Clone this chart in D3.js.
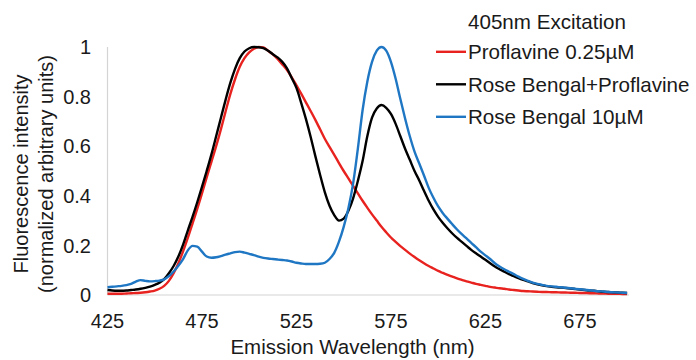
<!DOCTYPE html>
<html>
<head>
<meta charset="utf-8">
<script src="https://cdn.jsdelivr.net/npm/d3@7"></script>
<style>
  html, body { margin: 0; padding: 0; background: #fff; }
  svg { display: block; font-family: "Liberation Sans", Arial, sans-serif; }
</style>
</head>
<body>
<svg id="chart" width="696" height="360"></svg>
<script>
// Emission wavelengths (nm), sampled every 2.5 nm
const wavelengths = d3.range(0, 111).map(i => 425 + i * 2.5);

// Normalized emission spectra under 405 nm excitation
const proflavine = [
  0.005, 0.005, 0.005, 0.005, 0.006, 0.007, 0.008, 0.009, 0.011, 0.014,
  0.018, 0.025, 0.037, 0.057, 0.088, 0.128, 0.176, 0.230, 0.288, 0.347,
  0.410, 0.474, 0.537, 0.600, 0.668, 0.740, 0.810, 0.870, 0.920, 0.955,
  0.978, 0.993, 1.000, 0.998, 0.985, 0.970, 0.952, 0.930, 0.907, 0.878,
  0.845, 0.812, 0.777, 0.742, 0.706, 0.668, 0.630, 0.597, 0.565, 0.532,
  0.500, 0.470, 0.440, 0.410, 0.380, 0.352, 0.325, 0.300, 0.275, 0.253,
  0.232, 0.214, 0.197, 0.182, 0.167, 0.153, 0.140, 0.128, 0.117, 0.107,
  0.097, 0.089, 0.081, 0.074, 0.067, 0.061, 0.055, 0.050, 0.045, 0.041,
  0.037, 0.033, 0.030, 0.027, 0.025, 0.022, 0.020, 0.018, 0.016, 0.015,
  0.014, 0.013, 0.012, 0.012, 0.011, 0.011, 0.010, 0.010, 0.009, 0.009,
  0.008, 0.008, 0.007, 0.007, 0.006, 0.006, 0.005, 0.005, 0.005, 0.004,
  0.004
];

const mixture = [
  0.020, 0.018, 0.017, 0.017, 0.018, 0.020, 0.022, 0.025, 0.029, 0.034,
  0.041, 0.050, 0.064, 0.088, 0.117, 0.155, 0.203, 0.260, 0.315, 0.374,
  0.436, 0.500, 0.567, 0.640, 0.714, 0.787, 0.855, 0.912, 0.955, 0.982,
  0.995, 1.000, 0.999, 0.995, 0.985, 0.971, 0.958, 0.940, 0.914, 0.875,
  0.835, 0.775, 0.710, 0.638, 0.560, 0.485, 0.415, 0.360, 0.322, 0.300,
  0.308, 0.340, 0.390, 0.460, 0.540, 0.640, 0.715, 0.752, 0.766, 0.755,
  0.730, 0.690, 0.640, 0.590, 0.545, 0.500, 0.462, 0.420, 0.380, 0.345,
  0.315, 0.290, 0.268, 0.248, 0.230, 0.214, 0.198, 0.182, 0.168, 0.155,
  0.142, 0.128, 0.115, 0.104, 0.094, 0.084, 0.076, 0.068, 0.061, 0.055,
  0.048, 0.043, 0.039, 0.036, 0.033, 0.031, 0.030, 0.028, 0.026, 0.024,
  0.022, 0.020, 0.018, 0.017, 0.015, 0.013, 0.012, 0.011, 0.010, 0.009,
  0.008
];

const roseBengal = [
  0.031, 0.033, 0.035, 0.037, 0.040, 0.045, 0.054, 0.060, 0.057, 0.055,
  0.056, 0.058, 0.063, 0.076, 0.095, 0.118, 0.145, 0.180, 0.198, 0.195,
  0.175, 0.155, 0.150, 0.152, 0.157, 0.163, 0.168, 0.173, 0.175, 0.171,
  0.166, 0.161, 0.155, 0.150, 0.147, 0.145, 0.143, 0.141, 0.139, 0.135,
  0.130, 0.127, 0.125, 0.125, 0.125, 0.126, 0.130, 0.145, 0.170, 0.215,
  0.275, 0.350, 0.450, 0.590, 0.745, 0.860, 0.940, 0.985, 1.000, 0.985,
  0.940, 0.872, 0.790, 0.712, 0.640, 0.578, 0.530, 0.482, 0.432, 0.392,
  0.357, 0.330, 0.307, 0.285, 0.264, 0.245, 0.228, 0.210, 0.193, 0.175,
  0.160, 0.145, 0.128, 0.115, 0.104, 0.094, 0.084, 0.074, 0.065, 0.057,
  0.050, 0.045, 0.041, 0.037, 0.035, 0.033, 0.031, 0.029, 0.027, 0.025,
  0.023, 0.021, 0.019, 0.017, 0.015, 0.014, 0.012, 0.011, 0.010, 0.009,
  0.008
];

const seriesNames = ["Proflavine 0.25\u00b5M", "Rose Bengal+Proflavine", "Rose Bengal 10\u00b5M"];
const seriesColors = ["#e8221f", "#000000", "#1f77c4"];
const seriesValues = [proflavine, mixture, roseBengal];

const xTicks = [425, 475, 525, 575, 625, 675];
const yTicks = [0, 0.2, 0.4, 0.6, 0.8, 1];
const yTickLabels = ["0", "0.2", "0.4", "0.6", "0.8", "1"];

const legendTitle = "405nm Excitation";
const xTitle = "Emission Wavelength (nm)";
const yTitleLines = ["Fluorescence intensity", "(normalized arbitrary units)"];

const svg = d3.select("#chart");
const fontSize = 20;
const textColor = "#1a1a1a";

const x = d3.scaleLinear().domain([425, 701]).range([107.5, 629]);
const y = d3.scaleLinear().domain([0, 1]).range([295, 47]);

// Axis lines
svg.append("line")
  .attr("x1", x(425)).attr("x2", x(425))
  .attr("y1", y(0)).attr("y2", y(1))
  .attr("stroke", "#d4d4d4").attr("stroke-width", 1.2);
svg.append("line")
  .attr("x1", x(425)).attr("x2", x(701))
  .attr("y1", y(0)).attr("y2", y(0))
  .attr("stroke", "#d4d4d4").attr("stroke-width", 1.2);

// Y tick labels
svg.append("g").selectAll("text")
  .data(yTicks)
  .join("text")
  .attr("x", 91)
  .attr("y", d => y(d))
  .attr("dy", "0.36em")
  .attr("text-anchor", "end")
  .attr("font-size", fontSize)
  .attr("fill", textColor)
  .text((d, i) => yTickLabels[i]);

// X tick labels
svg.append("g").selectAll("text")
  .data(xTicks)
  .join("text")
  .attr("x", d => x(d))
  .attr("y", 327.5)
  .attr("text-anchor", "middle")
  .attr("font-size", fontSize)
  .attr("fill", textColor)
  .text(d => d);

// Axis titles
svg.append("text")
  .attr("x", 352.5)
  .attr("y", 354)
  .attr("text-anchor", "middle")
  .attr("font-size", 20.5)
  .attr("fill", textColor)
  .text(xTitle);

const yTitle = svg.append("text")
  .attr("transform", "translate(0,174) rotate(-90)")
  .attr("text-anchor", "middle")
  .attr("font-size", fontSize)
  .attr("fill", textColor);
yTitleLines.forEach((line, i) => {
  yTitle.append("tspan")
    .attr("x", 0)
    .attr("y", 28 + i * 25)
    .text(line);
});

// Spectra
const lineGen = d3.line()
  .x(d => x(d[0]))
  .y(d => y(d[1]))
  .curve(d3.curveMonotoneX);

svg.append("g").selectAll("path")
  .data(seriesValues)
  .join("path")
  .attr("d", vals => lineGen(wavelengths.map((w, i) => [w, vals[i]])))
  .attr("fill", "none")
  .attr("stroke", (d, i) => seriesColors[i])
  .attr("stroke-width", 2.4)
  .attr("stroke-linejoin", "round");

// Legend
const legendFont = 20.6;
const legend = svg.append("g");
legend.append("text")
  .attr("x", 468)
  .attr("y", 28.5)
  .attr("font-size", legendFont)
  .attr("fill", textColor)
  .text(legendTitle);

const rows = legend.selectAll("g.row")
  .data(seriesNames)
  .join("g")
  .attr("class", "row")
  .attr("transform", (d, i) => `translate(0,${51.8 + i * 32.5})`);
rows.append("line")
  .attr("x1", 436).attr("x2", 466)
  .attr("y1", 0).attr("y2", 0)
  .attr("stroke", (d, i) => seriesColors[i])
  .attr("stroke-width", 2.4);
rows.append("text")
  .attr("x", 468)
  .attr("y", 7.5)
  .attr("font-size", legendFont)
  .attr("fill", textColor)
  .text(d => d);
</script>
</body>
</html>
